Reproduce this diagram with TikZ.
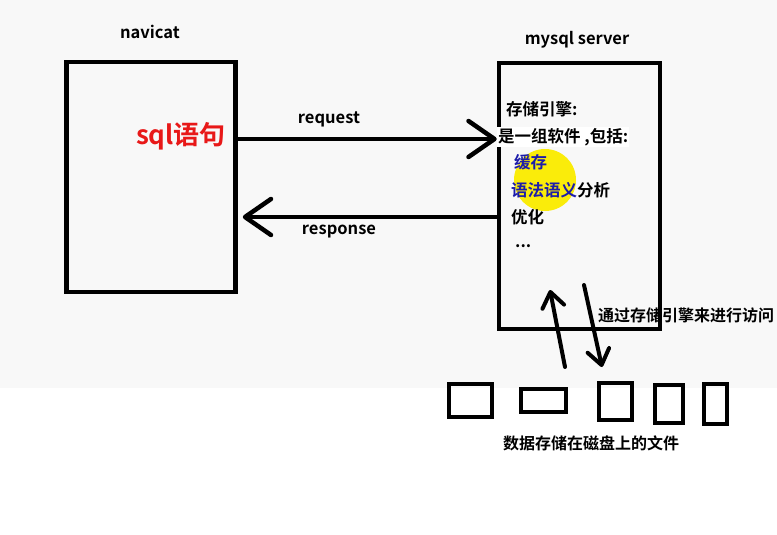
\documentclass[tikz,border=0pt]{standalone}
\usepackage{fontspec}
\setmainfont{Noto Sans CJK SC}[BoldFont={Noto Sans CJK SC Bold}]
\usetikzlibrary{arrows.meta}

\definecolor{sqlred}{RGB}{232,24,24}
\definecolor{engblue}{RGB}{28,28,170}
\definecolor{hiyellow}{RGB}{250,236,10}
\definecolor{bggray}{RGB}{248,248,248}

\tikzset{
  box/.style={draw, line width=4.5pt, inner sep=0pt},
  disk/.style={draw, line width=4pt, inner sep=0pt},
  lbl/.style={font=\bfseries\fontsize{16.5}{18}\selectfont, inner sep=1pt},
  txt/.style={font=\bfseries\fontsize{16.5}{18}\selectfont, inner sep=1pt, anchor=west},
  flow/.style={line width=4.5pt, line cap=round, -{Straight Barb[length=26pt,width=36pt,round]}},
  access/.style={line width=4pt, line cap=round, -{Straight Barb[length=15pt,width=22pt,round]}},
}

\begin{document}
\begin{tikzpicture}[x=1pt,y=-1pt]
    % background
    \useasboundingbox (0,0) rectangle (777,535);
    \fill[bggray] (0,0) rectangle (777,388);

    % draw client and server
    \node[box, minimum width=169pt, minimum height=230pt] (client) at (151,177) {};
    \node[box, minimum width=161pt, minimum height=266pt] (server) at (579.5,196) {};
    \node[lbl] (clientname) at (150,32) {navicat};
    \node[lbl] (servername) at (577,40) {mysql server};

    \node[font=\bfseries\fontsize{26}{28}\selectfont, text=sqlred] (sql) at (181,136) {sql语句};

    % draw text of the engine
    \node[circle, fill=hiyellow, minimum size=62pt, inner sep=0pt] (spot) at (545,180) {};
    \node[txt] (engine) at (505,109) {存储引擎:};
    \node[txt, fill=white] (group) at (497,137) {是一组软件 ,包括:};
    \node[txt, text=engblue] (cache) at (513,162) {缓存};
    \node[txt] (parse) at (510,190) {\textcolor{engblue}{语法语义}分析};
    \node[txt] (optim) at (510,217) {优化};
    \node[txt] (more) at (514,246) {...};

    % draw request and response
    \coordinate (reqy) at (0,139);
    \coordinate (respy) at (0,217);
    \draw[flow] (client.east |- reqy) -- (server.west |- reqy);
    \draw[flow, shorten >=5pt] (server.west |- respy) -- (client.east |- respy);
    \node[lbl] (request) at (329,119) {request};
    \node[lbl] (response) at (339,232) {response};

    % draw files on disk
    \foreach \x/\y/\w/\h [count=\i] in {470.5/400.5/43/33, 543.5/400.5/45/23, 615.5/401.5/33/37, 669/404/28/38, 715.5/404/23/40}
      \node[disk, minimum width=\w pt, minimum height=\h pt] (file\i) at (\x,\y) {};
    \node[txt, anchor=center, font=\bfseries\fontsize{16}{18}\selectfont] (files) at (591,443) {数据存储在磁盘上的文件};

    % draw access arrows
    \coordinate (upfrom) at (565,367);
    \coordinate (upto) at (550,290);
    \coordinate (downfrom) at (584,285);
    \coordinate (downto) at (602,367);
    \draw[access] (upfrom) -- (upto);
    \draw[access] (downfrom) -- (downto);
    \node[txt, font=\bfseries\fontsize{16}{18}\selectfont] (via) at (597,315) {通过存储引擎来进行访问};

\end{tikzpicture}
\end{document}
